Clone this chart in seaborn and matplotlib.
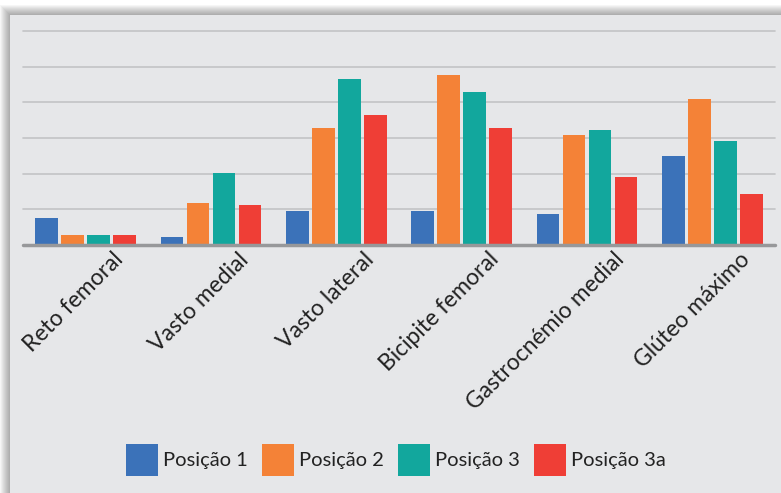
import matplotlib
matplotlib.use('Agg')
import matplotlib.pyplot as plt
import matplotlib.transforms as mtransforms
from matplotlib.patches import Rectangle
import pandas as pd
import seaborn as sns

# Muscle groups and activation per position (grid step = 10)
musculos = ['Reto femoral', 'Vasto medial', 'Vasto lateral',
            'Bicipite femoral', 'Gastrocnémio medial', 'Glúteo máximo']
posicao_1 = [7.6, 2.2, 9.5, 9.5, 8.7, 24.9]
posicao_2 = [2.8, 11.8, 32.8, 47.6, 30.8, 40.9]
posicao_3 = [2.8, 20.2, 46.5, 42.9, 32.2, 29.1]
posicao_3a = [2.8, 11.2, 36.4, 32.8, 19.0, 14.3]
series = ['Posição 1', 'Posição 2', 'Posição 3', 'Posição 3a']
cores = ['#3b72b9', '#f48237', '#12a79d', '#ef3e36']

df = pd.DataFrame({'musculo': musculos * 4,
                   'posicao': [s for s in series for _ in musculos],
                   'valor': posicao_1 + posicao_2 + posicao_3 + posicao_3a})

sns.set_style('white')
plt.rcParams['font.family'] = ['Lato', 'DejaVu Sans']

fig = plt.figure(figsize=(7.81, 4.93), dpi=100)
fig.patch.set_facecolor('white')

# card with a soft shadow on the top/left
W, H = 781, 493
for off in range(10, 0, -1):
    fig.patches.append(Rectangle(((10 - off) / W, 0), 1, (H - 15 + off) / H,
                                 transform=fig.transFigure, facecolor='black',
                                 alpha=0.035, edgecolor='none', zorder=0))
fig.patches.append(Rectangle((10 / W, 0), 1, (H - 15) / H, transform=fig.transFigure,
                             facecolor='#e6e7e9', edgecolor='none', zorder=1))

ax = fig.add_axes([23 / W, (H - 245) / H, (775 - 23) / W, (245 - 31) / H])
ax.set_zorder(5)
ax.set_facecolor('none')
sns.barplot(data=df, x='musculo', y='valor', hue='posicao', palette=cores,
            width=0.83, gap=0.12, saturation=1, linewidth=0, ax=ax, zorder=3)

ax.set_ylim(0, 60)
ax.set_yticks(range(10, 61, 10))
ax.yaxis.grid(True, color='#c2c3c5', linewidth=1.2, zorder=0)
ax.set_axisbelow(True)
for gl in ax.get_ygridlines():
    gl.set_clip_on(False)
ax.set_yticklabels([])
ax.tick_params(axis='y', length=0)
ax.tick_params(axis='x', length=0, pad=8, labelsize=16.5, labelcolor='#222222')
ax.axhline(0, color='#97989a', linewidth=2.5, zorder=4, clip_on=False)
for s in ax.spines.values():
    s.set_visible(False)
ax.set_xlabel('')
ax.set_ylabel('')

shift = mtransforms.ScaledTranslation(0.34, 0, fig.dpi_scale_trans)
for lbl in ax.get_xticklabels():
    lbl.set_rotation(45)
    lbl.set_ha('right')
    lbl.set_va('center')
    lbl.set_rotation_mode('anchor')
    lbl.set_transform(lbl.get_transform() + shift)

ax.legend_.remove()
handles = [Rectangle((0, 0), 1, 1, facecolor=c, edgecolor='none') for c in cores]
fig.legend(handles, series, loc='center', bbox_to_anchor=(396 / W, 33 / H),
           ncol=4, frameon=False, fontsize=14.5, handlelength=1.59, handleheight=2.07,
           handletextpad=0.25, columnspacing=0.7, labelcolor='#222222')

plt.savefig('out.png', dpi=100)
